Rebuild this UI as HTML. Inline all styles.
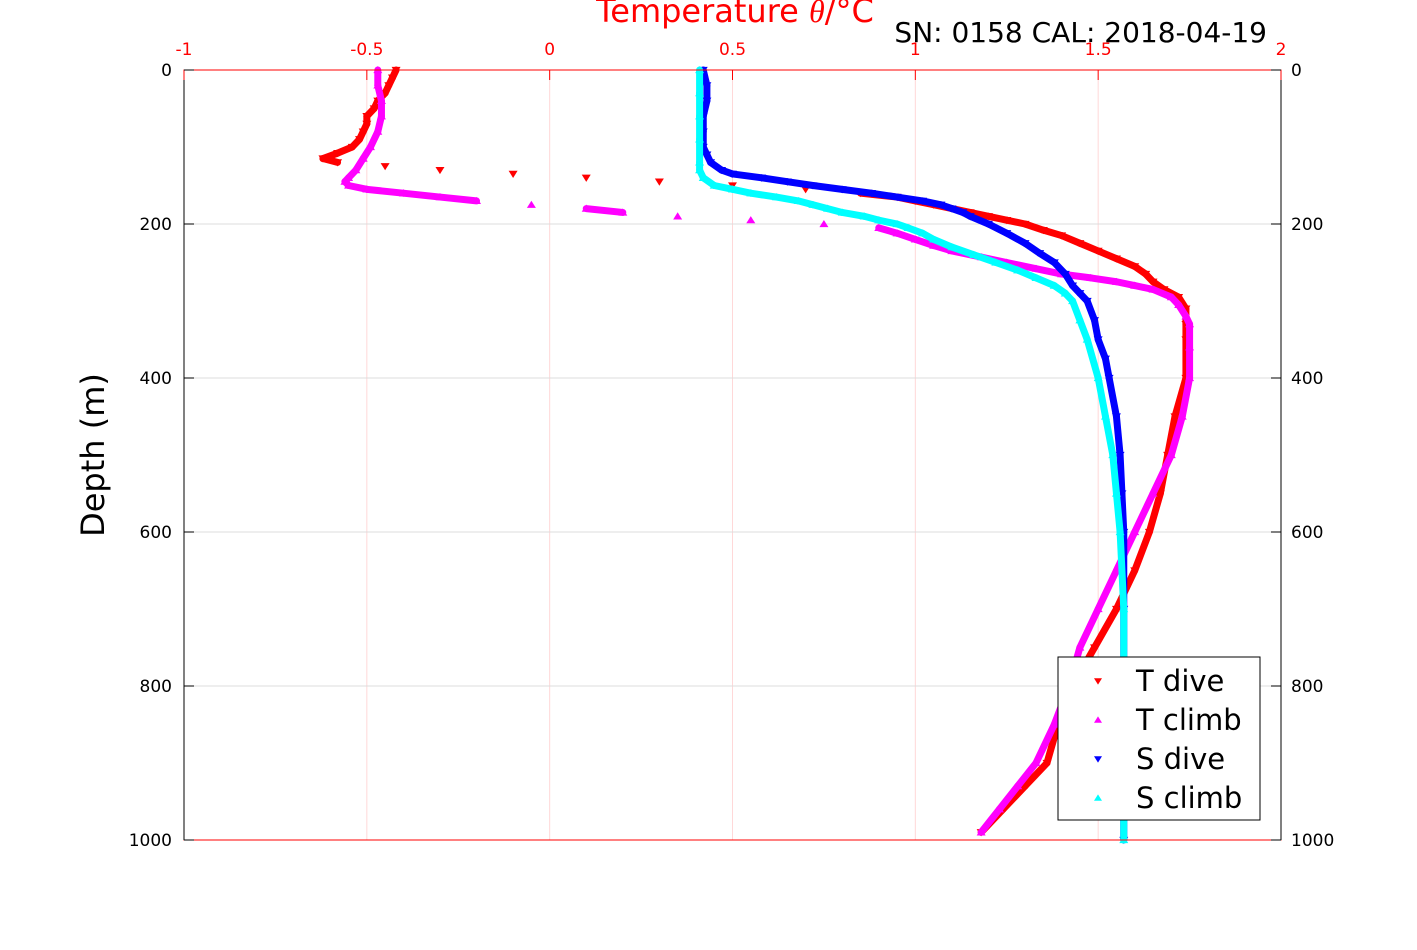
<!DOCTYPE html>
<html><head><meta charset="utf-8"><style>
body{margin:0;background:#fff;}
svg{font-family:"DejaVu Sans","Liberation Sans",sans-serif;}
</style></head><body>
<svg id="chart" width="1417" height="945" xmlns="http://www.w3.org/2000/svg">
<rect x="0" y="0" width="1417" height="945" fill="#fff"/>
<g id="grid"></g>
<g id="series"></g>
<rect x="184" y="70" width="1097" height="770" fill="none" stroke="#ff0000" stroke-width="1"/>
<line x1="1281" y1="70" x2="1281" y2="840" stroke="#000"/>
<line x1="184" y1="70" x2="184" y2="840" stroke="#000"/>
<line x1="184" y1="70" x2="1281" y2="70" stroke="#ff0000"/>
<g id="ticks"></g>
<text x="735" y="22" fill="#ff0000" font-size="32" text-anchor="middle">Temperature <tspan font-family="Liberation Serif" font-style="italic">θ</tspan>/°C</text>
<text x="1267" y="42" fill="#000" font-size="28" text-anchor="end">SN: 0158  CAL: 2018-04-19</text>
<text x="0" y="0" transform="translate(104,455) rotate(-90)" font-size="32" text-anchor="middle" fill="#000">Depth (m)</text>
<g>
<rect x="1058" y="657" width="202" height="163" fill="#fff" stroke="#000" stroke-width="1"/>
<g id="legend-items"></g>
</g>
</svg>
<script>
const xTicks=[-1,-0.5,0,0.5,1,1.5,2];
const xTickLabels=["-1","-0.5","0","0.5","1","1.5","2"];
const yTicks=[0,200,400,600,800,1000];
const tDiveDepth=[0,10,20,30,40,50,60,70,80,90,100,108,115,120,125,130,135,140,145,150,155,160,165,170,175,180,185,190,195,200,208,215,225,235,245,255,265,275,285,295,310,330,350,400,450,500,550,600,650,700,750,800,850,900,930,960,990];
const tDiveVal=[-0.42,-0.43,-0.44,-0.45,-0.47,-0.48,-0.5,-0.5,-0.51,-0.52,-0.54,-0.58,-0.62,-0.58,-0.45,-0.3,-0.1,0.1,0.3,0.5,0.7,0.85,0.95,1.0,1.05,1.1,1.15,1.2,1.25,1.3,1.35,1.4,1.45,1.5,1.55,1.6,1.63,1.65,1.68,1.72,1.74,1.74,1.74,1.74,1.71,1.69,1.67,1.64,1.6,1.55,1.49,1.43,1.39,1.36,1.3,1.24,1.18];
const tClimbDepth=[0,20,40,60,80,100,115,130,140,145,150,155,160,165,170,175,180,185,190,195,200,205,212,220,228,235,243,250,258,265,270,275,280,285,295,305,320,330,360,400,450,500,550,600,650,700,750,800,850,900,930,960,990];
const tClimbVal=[-0.47,-0.47,-0.46,-0.46,-0.47,-0.49,-0.51,-0.53,-0.55,-0.56,-0.55,-0.5,-0.4,-0.3,-0.2,-0.05,0.1,0.2,0.35,0.55,0.75,0.9,0.95,1.0,1.05,1.1,1.18,1.25,1.33,1.4,1.48,1.55,1.6,1.65,1.7,1.72,1.74,1.75,1.75,1.75,1.73,1.7,1.65,1.6,1.55,1.5,1.45,1.42,1.38,1.33,1.28,1.23,1.18];
const sDiveDepth=[0,20,40,60,80,100,110,120,130,135,140,145,150,155,160,165,170,175,180,185,190,200,212,225,238,250,265,280,290,300,325,350,375,400,450,500,550,600,700,800,900,1000];
const sDiveVal=[0.42,0.43,0.43,0.42,0.42,0.42,0.43,0.44,0.47,0.5,0.58,0.65,0.72,0.8,0.88,0.95,1.02,1.07,1.1,1.13,1.15,1.2,1.25,1.3,1.34,1.38,1.41,1.43,1.45,1.47,1.49,1.5,1.52,1.53,1.55,1.56,1.565,1.57,1.57,1.57,1.57,1.57];
const sClimbDepth=[0,30,60,90,120,130,140,150,155,160,165,170,175,180,185,190,195,200,205,212,220,230,240,250,260,270,280,290,300,325,350,400,450,500,550,600,700,800,900,1000];
const sClimbVal=[0.41,0.41,0.41,0.41,0.41,0.41,0.42,0.45,0.5,0.55,0.62,0.68,0.72,0.76,0.8,0.86,0.9,0.95,0.98,1.02,1.05,1.1,1.16,1.22,1.28,1.33,1.38,1.41,1.43,1.45,1.47,1.5,1.52,1.54,1.55,1.56,1.57,1.57,1.57,1.57];
const X0=184,X1=1281,Y0=70,Y1=840;
const xs=v=>X0+(v+1)/3*(X1-X0);
const ys=d=>Y0+d/1000*(Y1-Y0);
const NS="http://www.w3.org/2000/svg";
function mk(tag,attrs,parent){const e=document.createElementNS(NS,tag);for(const k in attrs)e.setAttribute(k,attrs[k]);parent.appendChild(e);return e;}
const grid=document.getElementById('grid'),ticks=document.getElementById('ticks'),series=document.getElementById('series');
xTicks.forEach((t,i)=>{
 const g=mk('line',{x1:xs(t),x2:xs(t),y1:Y0,y2:Y1,stroke:'#ffd8d8','stroke-width':1},grid);
 
 
 const tk=mk('line',{x1:xs(t),x2:xs(t),y1:Y0,y2:Y0+10,stroke:'#ff0000'},ticks);
 
 
 const l=mk('text',{x:xs(t),y:Y0-15,fill:'#ff0000','font-size':17,'text-anchor':'middle'},ticks);
 l.textContent=xTickLabels[i];
 
 
});
yTicks.forEach(t=>{
 const g=mk('line',{x1:X0,x2:X1,y1:ys(t),y2:ys(t),stroke:'#dcdcdc','stroke-width':1},grid);
 
 
 mk('line',{x1:X0,x2:X0+10,y1:ys(t),y2:ys(t),stroke:'#000'},ticks);
 mk('line',{x1:X1-10,x2:X1,y1:ys(t),y2:ys(t),stroke:'#000'},ticks);
 const l=mk('text',{x:X0-12,y:ys(t)+6,fill:'#000','font-size':17,'text-anchor':'end'},ticks);
 l.textContent=t;
 
 
 const r=mk('text',{x:X1+10,y:ys(t)+6,fill:'#000','font-size':17,'text-anchor':'start'},ticks);
 r.textContent=t;
 
 
});
function tri(x,y,down,s){return down?`${x-s},${y-s*0.7} ${x+s},${y-s*0.7} ${x},${y+s*0.9}`:`${x-s},${y+s*0.7} ${x+s},${y+s*0.7} ${x},${y-s*0.9}`;}
function drawSeries(dep,val,color,down,name,solidFrom){
 const g=mk('g',{},series);
 
 
 // dense segments drawn as thick line where points are close
 for(let i=1;i<dep.length;i++){
  const x1=xs(val[i-1]),y1=ys(dep[i-1]),x2=xs(val[i]),y2=ys(dep[i]);
  if(Math.abs(x2-x1)<45){mk('line',{x1:x1,y1:y1,x2:x2,y2:y2,stroke:color,'stroke-width':7,'stroke-linecap':'round'},g);}
 }
 dep.forEach((d,i)=>{
  const p=mk('polygon',{points:tri(xs(val[i]),ys(d),down,4.5),fill:color},g);
  
  
 });
}
drawSeries(tDiveDepth,tDiveVal,'#ff0000',true,'t-dive-series');
drawSeries(tClimbDepth,tClimbVal,'#ff00ff',false,'t-climb-series');
drawSeries(sDiveDepth,sDiveVal,'#0000ff',true,'s-dive-series');
drawSeries(sClimbDepth,sClimbVal,'#00ffff',false,'s-climb-series');
const legendNames=["T dive","T climb","S dive","S climb"];
const legendColors=['#ff0000','#ff00ff','#0000ff','#00ffff'];
const legendDown=[true,false,true,false];
const li=document.getElementById('legend-items');
legendNames.forEach((n,i)=>{
 const y=681+i*39;
 const m=mk('polygon',{points:tri(1098,y,legendDown[i],4),fill:legendColors[i]},li);
 
 
 const t=mk('text',{x:1136,y:y+10,'font-size':29,fill:'#000'},li);
 t.textContent=n;
 
 
});
</script>
</body></html>
